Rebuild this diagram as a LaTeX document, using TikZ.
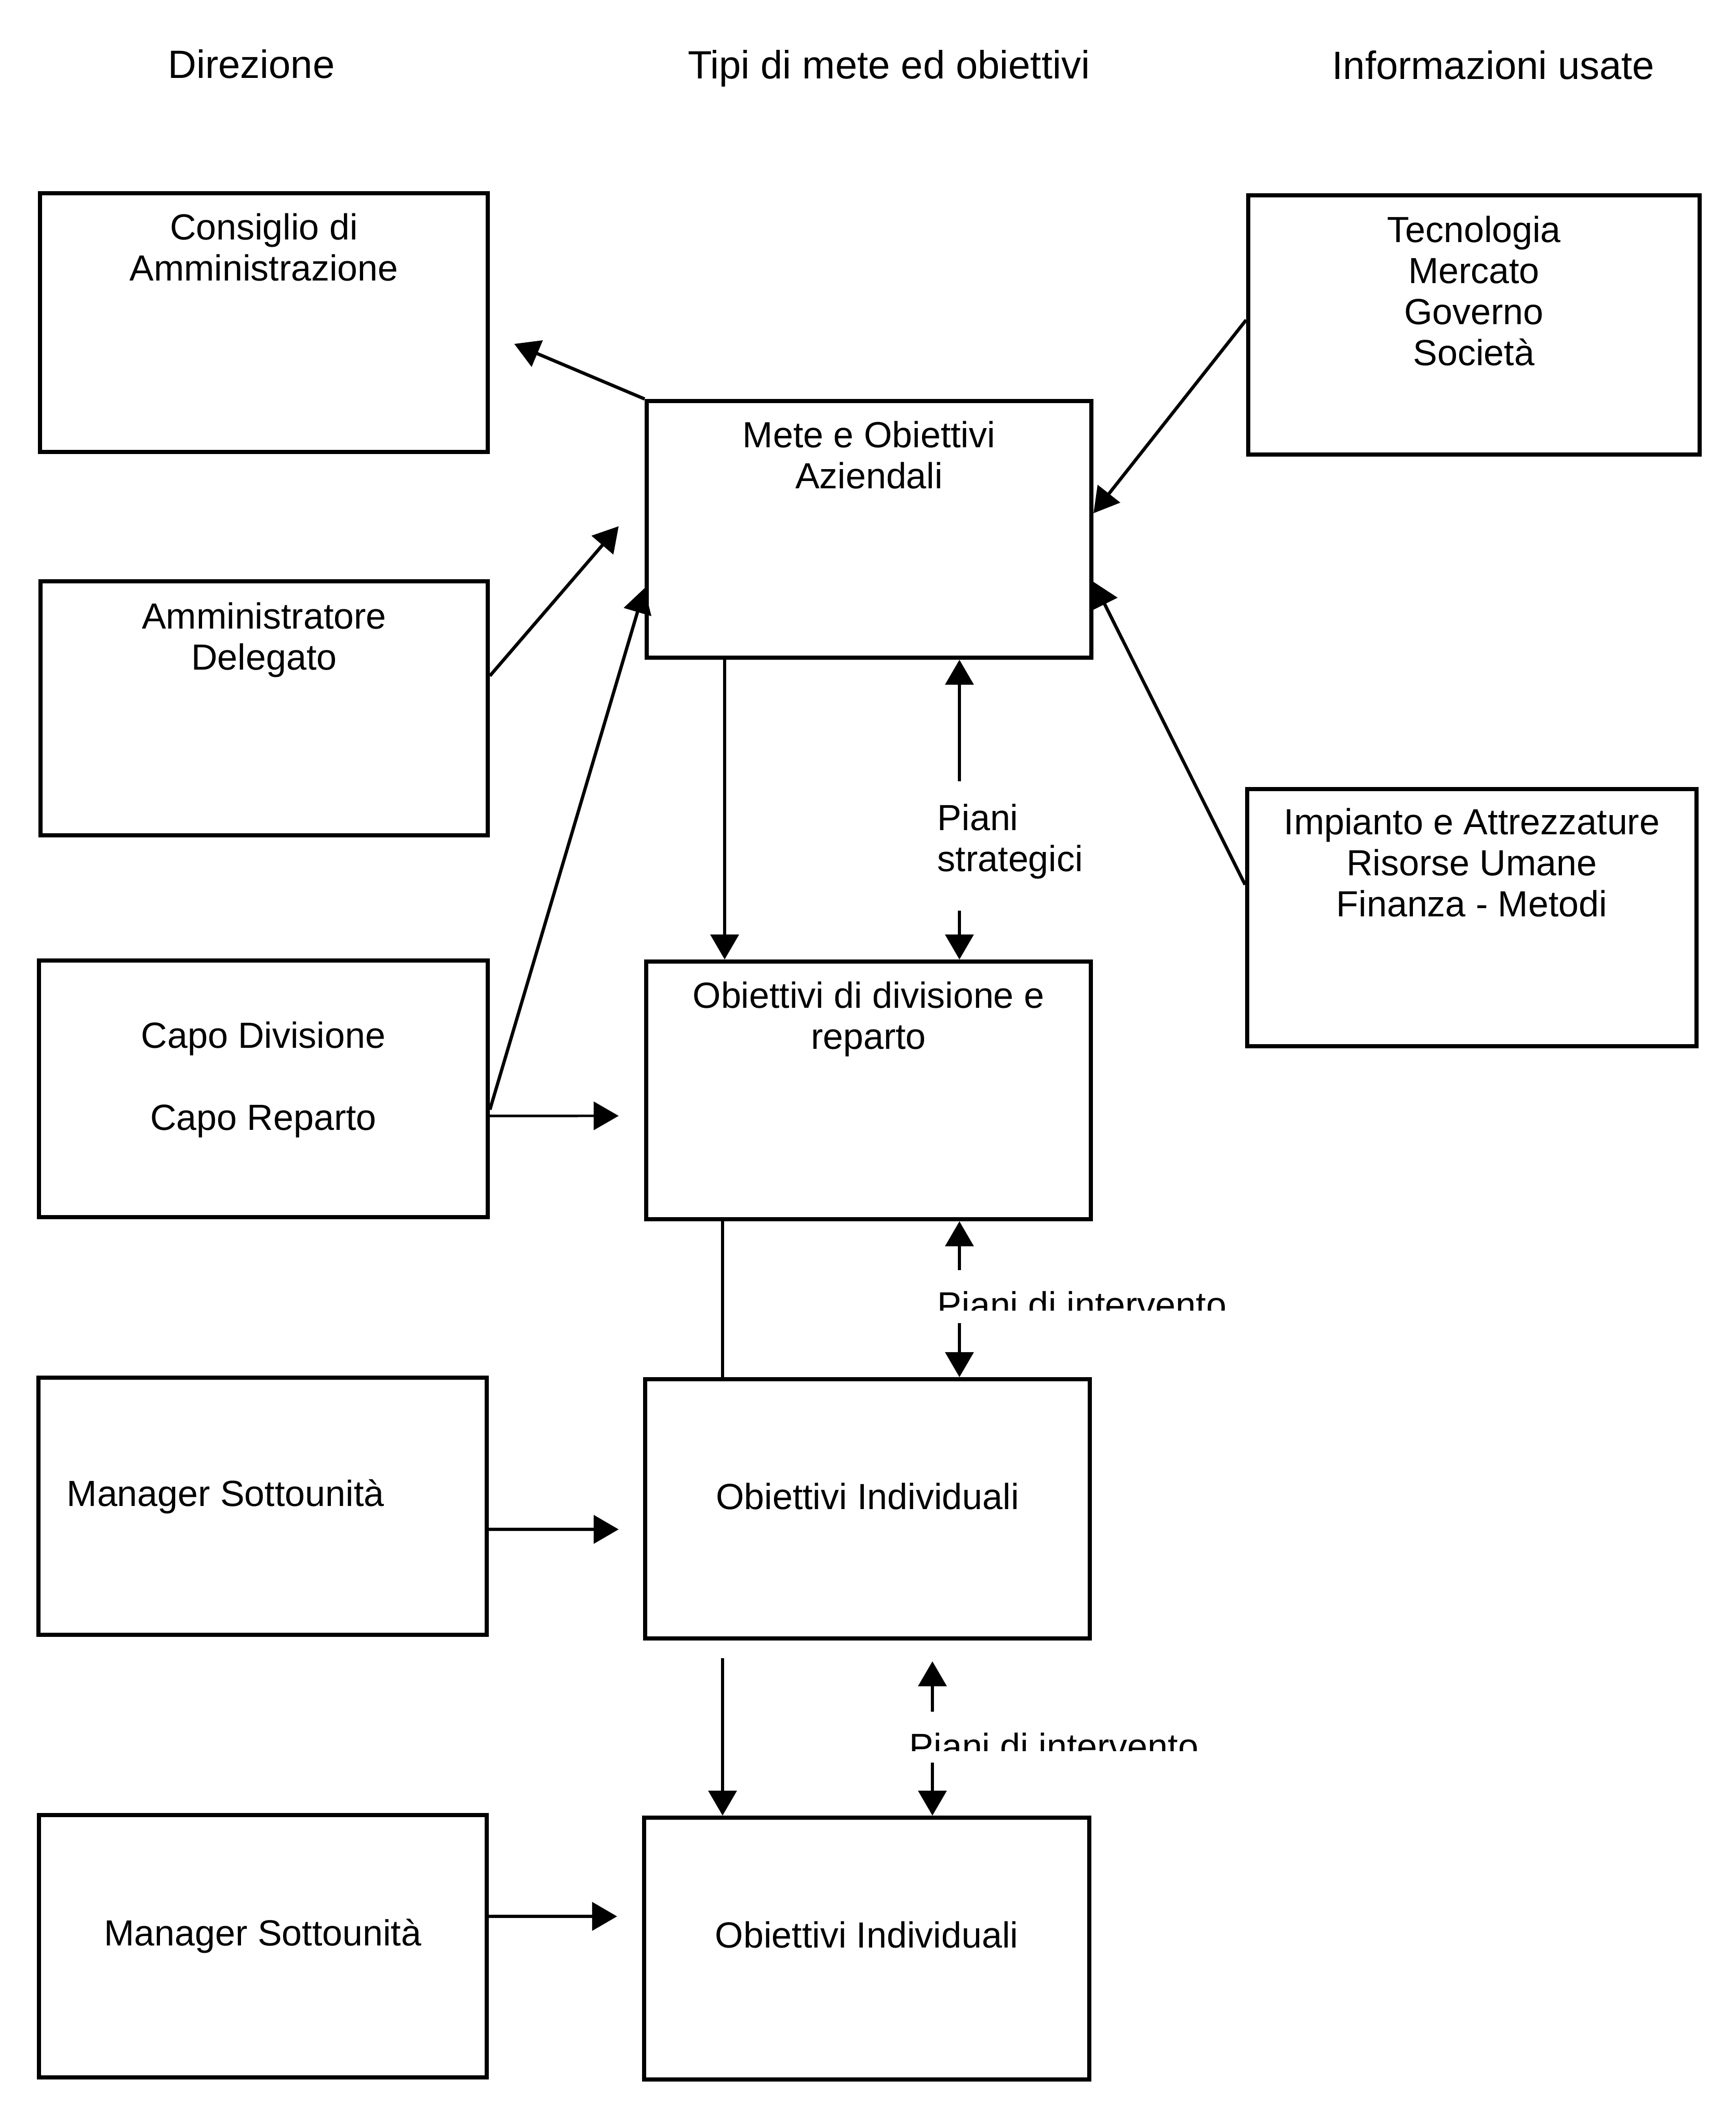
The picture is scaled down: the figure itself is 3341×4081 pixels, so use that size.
\documentclass[tikz,border=0pt]{standalone}
\usepackage{fontspec}
\setmainfont{Liberation Sans}
\usetikzlibrary{arrows.meta,positioning}
\newcommand{\boxfont}{\fontsize{19.9pt}{22.5pt}\selectfont}
\newcommand{\headfont}{\fontsize{21.6pt}{24pt}\selectfont}
\begin{document}
\begin{tikzpicture}[x=0.01cm,y=-0.01cm,line width=2.2pt,
  box/.style={draw,rectangle,inner sep=0pt},
  boxtext/.style={inner sep=0pt,align=center,font=\boxfont},
  head/.style={inner sep=0pt,anchor=base,font=\headfont},
  arr/.style={line width=1.8pt,-{Triangle[length=0.48cm,width=0.54cm]}}]
\useasboundingbox (0,0) rectangle (3341,4081);
\node[head] (dir) at (484,150) {Direzione};
\node[head] (tipi) at (1711,151) {Tipi di mete ed obiettivi};
\node[head] (info) at (2875,152) {Informazioni usate};
\node[box,minimum width=8.62cm,minimum height=4.98cm] (cons) at (508,621) {};
\node[box,minimum width=8.61cm,minimum height=4.89cm] (amm) at (508.5,1363.5) {};
\node[box,minimum width=8.64cm,minimum height=4.94cm] (capo) at (507,2096) {};
\node[box,minimum width=8.63cm,minimum height=4.95cm] (man1) at (505.5,2899.5) {};
\node[box,minimum width=8.62cm,minimum height=5.05cm] (man2) at (506,3746.5) {};
\node[box,minimum width=8.56cm,minimum height=4.94cm] (mete) at (1673,1019) {};
\node[box,minimum width=8.56cm,minimum height=4.96cm] (obdiv) at (1672,2099) {};
\node[box,minimum width=8.56cm,minimum height=4.99cm] (obind1) at (1670,2904.5) {};
\node[box,minimum width=8.57cm,minimum height=5.04cm] (obind2) at (1668.5,3751) {};
\node[box,minimum width=8.69cm,minimum height=4.99cm] (tecn) at (2837.5,625.5) {};
\node[box,minimum width=8.65cm,minimum height=4.95cm] (imp) at (2833.5,1766.5) {};
\node[boxtext,below=0.39cm of cons.north] (consT) {Consiglio di\\Amministrazione};
\node[boxtext,below=0.41cm of amm.north] (ammT) {Amministratore\\Delegato};
\node[boxtext,below=1.18cm of capo.north] (capoT) {Capo Divisione\\[22.5pt]Capo Reparto};
\node[boxtext,below right=1.96cm and 0.55cm of man1.north west] (man1T) {Manager Sottounità};
\node[boxtext,below=2.0cm of man2.north] (man2T) {Manager Sottounità};
\node[boxtext,below=0.39cm of mete.north] (meteT) {Mete e Obiettivi\\Aziendali};
\node[boxtext,below=0.39cm of obdiv.north] (obdivT) {Obiettivi di divisione e\\reparto};
\node[boxtext,below=2.0cm of obind1.north] (obind1T) {Obiettivi Individuali};
\node[boxtext,below=2.0cm of obind2.north] (obind2T) {Obiettivi Individuali};
\node[boxtext,below=0.4cm of tecn.north] (tecnT) {Tecnologia\\Mercato\\Governo\\Società};
\node[boxtext,below=0.37cm of imp.north] (impT) {Impianto e Attrezzature\\Risorse Umane\\Finanza - Metodi};
\node[boxtext,align=left,anchor=north west] (ps) at (1801,1544) {Piani\\strategici};
\begin{scope}
\clip (1780,2460) rectangle (2420,2522);
\node[boxtext,anchor=north west] (pi1) at (1801,2482) {Piani di intervento};
\end{scope}
\begin{scope}
\clip (1720,3310) rectangle (2360,3370);
\node[boxtext,anchor=north west] (pi2) at (1747,3332) {Piani di intervento};
\end{scope}
\coordinate (consIn) at (990,662);
\coordinate (ammTip) at (1191,1013);
\coordinate (capoTip) at (1191,2148);
\coordinate (man1Tip) at (1191,2944);
\coordinate (man2Tip) at (1188,3689);
\coordinate (stemA) at (1395,0);
\coordinate (stemB) at (1391,0);
\coordinate (stemC) at (1391,3192);
\coordinate (psTop) at (1847,1504);
\coordinate (psBot) at (1847,1753);
\coordinate (pi1Top) at (1847,2445);
\coordinate (pi1Bot) at (1847,2547);
\coordinate (pi2Top) at (1795,3295);
\coordinate (pi2Tip) at (1795,3198);
\coordinate (pi2Bot) at (1795,3393);
\draw[arr] (mete.north west) -- (consIn);
\draw[arr] ([yshift=0.625cm]amm.east) -- (ammTip);
\draw[arr] ([yshift=-0.40cm]capo.east) -- ([yshift=-1.13cm]mete.west);
\draw[arr,line width=1.4pt] ([yshift=-0.52cm]capo.east) -- (capoTip);
\draw[arr] ([yshift=-0.445cm]man1.east) -- (man1Tip);
\draw[arr] ([yshift=0.575cm]man2.east) -- (man2Tip);
\draw[arr] ([yshift=0.095cm]tecn.west) -- ([yshift=0.31cm]mete.east);
\draw[arr] ([yshift=0.635cm]imp.west) -- ([yshift=-1.01cm]mete.east);
\draw[arr] (stemA |- mete.south) -- (stemA |- obdiv.north);
\draw[arr] (psTop) -- (psTop |- mete.south);
\draw[arr] (psBot) -- (psBot |- obdiv.north);
\draw[line width=1.8pt] (stemB |- obdiv.south) -- (stemB |- obind1.north);
\draw[arr] (pi1Top) -- (pi1Top |- obdiv.south);
\draw[arr] (pi1Bot) -- (pi1Bot |- obind1.north);
\draw[arr] (stemC) -- (stemC |- obind2.north);
\draw[arr] (pi2Top) -- (pi2Tip);
\draw[arr] (pi2Bot) -- (pi2Bot |- obind2.north);
\end{tikzpicture}
\end{document}
